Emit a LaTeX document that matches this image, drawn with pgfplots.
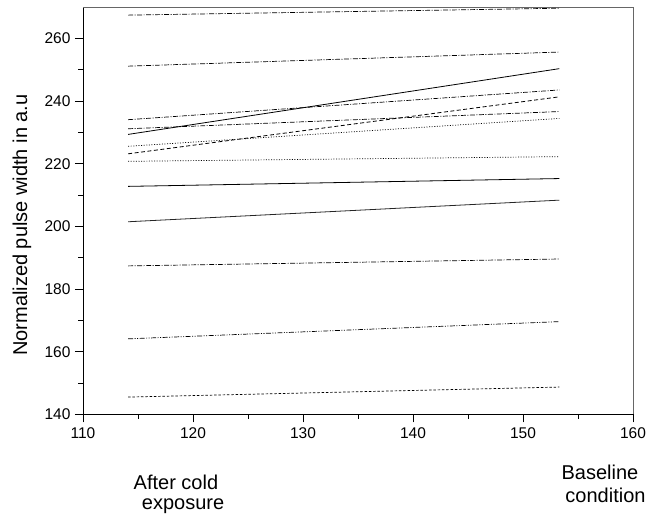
\documentclass[border=0pt]{standalone}
\usepackage{fontspec}
\setmainfont{Liberation Sans}
\usepackage{pgfplots}
\pgfplotsset{compat=1.18}

\begin{document}
\begin{tikzpicture}
  \begin{axis}[
    scale only axis,
    width=550pt, height=407pt,
    xmin=110, xmax=160, ymin=140, ymax=270,
    xtick={110,120,...,160}, ytick={140,160,...,260},
    minor xtick={115,125,...,155}, minor ytick={150,170,...,250},
    axis x line*=bottom, axis y line*=left,
    tick align=outside,
    major tick length=8pt, minor tick length=4.5pt,
    every tick/.style={black, line width=0.9pt},
    axis line style={black, line width=0.9pt, -},
    /pgf/number format/assume math mode=true,
    ticklabel style={font=\fontsize{15.5}{18}\selectfont},
    xticklabel style={yshift=-2pt},
    yticklabel style={xshift=-1pt},
    clip=false,
  ]
    \draw[gray!80!black, line width=0.6pt] (rel axis cs:0,1) -- (rel axis cs:1,1) -- (rel axis cs:1,0);

    % dash dot
    \addplot[black, line width=0.7pt, dash pattern=on 5pt off 1.5pt on 1pt off 1.5pt] coordinates {(114.1,267.5) (153.3,269.7)};
    \addplot[black, line width=0.7pt, dash pattern=on 5pt off 1.5pt on 1pt off 1.5pt] coordinates {(114.1,251.2) (153.3,255.7)};
    % solid, steep
    \addplot[black, line width=0.8pt] coordinates {(114.1,229.4) (153.3,250.4)};
    \addplot[black, line width=0.7pt, dash pattern=on 5pt off 1.5pt on 1pt off 1.5pt] coordinates {(114.1,234.1) (153.3,243.6)};
    \addplot[black, line width=0.7pt, dash pattern=on 5pt off 1.5pt on 1pt off 1.5pt] coordinates {(114.1,231.2) (153.3,236.7)};
    % dashed
    \addplot[black, line width=0.8pt, dash pattern=on 4pt off 2.5pt] coordinates {(114.1,223.2) (153.3,241.4)};
    % dotted
    \addplot[black, line width=0.7pt, dash pattern=on 1pt off 1.6pt] coordinates {(114.1,225.6) (153.3,234.5)};
    \addplot[black, line width=0.7pt, dash pattern=on 1pt off 1.6pt] coordinates {(114.1,220.8) (153.3,222.3)};
    % solid
    \addplot[black, line width=0.8pt] coordinates {(114.1,212.8) (153.3,215.3)};
    \addplot[black!85, line width=0.8pt] coordinates {(114.1,201.5) (153.3,208.4)};
    % dash dot
    \addplot[black, line width=0.7pt, dash pattern=on 5pt off 1.5pt on 1pt off 1.5pt] coordinates {(114.1,187.4) (153.3,189.6)};
    % dash dot dot
    \addplot[black, line width=0.7pt, dash pattern=on 5pt off 1.5pt on 1pt off 1.5pt on 1pt off 1.5pt] coordinates {(114.1,164.1) (153.3,169.6)};
    % short dash
    \addplot[black, line width=0.7pt, dash pattern=on 2.5pt off 1.8pt] coordinates {(114.1,145.5) (153.3,148.7)};

    \node[rotate=90, font=\fontsize{20}{24}\selectfont] at ([xshift=-61pt]rel axis cs:0,0.465) {Normalized pulse width in a.u};
    \node[font=\fontsize{20}{24}\selectfont] at ([yshift=-68pt]axis cs:118.45,140) {After cold};
    \node[font=\fontsize{20}{24}\selectfont] at ([yshift=-92pt]axis cs:119.1,140) {exposure};
    \node[font=\fontsize{20}{24}\selectfont] at ([yshift=-58pt]axis cs:157.0,140) {Baseline};
    \node[font=\fontsize{20}{24}\selectfont] at ([yshift=-81pt]axis cs:157.5,140) {condition};

    \coordinate (sw) at (rel axis cs:0,0);
    \coordinate (ne) at (rel axis cs:1,1);
  \end{axis}
  \pgfresetboundingbox
  \path[use as bounding box] ([shift={(-83pt,-104.7pt)}]sw) rectangle ([shift={(15pt,7.3pt)}]ne);
\end{tikzpicture}
\end{document}
